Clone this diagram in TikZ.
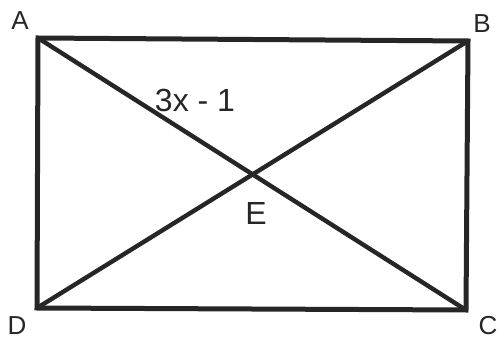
\documentclass[tikz,border=0pt]{standalone}
\usepackage{fontspec}
\setmainfont{Liberation Sans}
\usepackage{tikz}
\usepackage{xcolor}
\usetikzlibrary{positioning,calc}
\definecolor{rcink}{HTML}{262626}
\tikzset{
  rectEdge/.style={draw=rcink, line width=5pt, line join=miter},
  diagLine/.style={draw=rcink, line width=4.4pt},
  vertexLabel/.style={font=\fontsize{26}{28}\selectfont, text=rcink, inner sep=0pt},
  sideLabel/.style={font=\fontsize{32}{34}\selectfont, text=rcink, inner sep=0pt}
}

\begin{document}
\begin{tikzpicture}[x=1pt,y=-1pt]
  \useasboundingbox (0,0) rectangle (504,339);
  \coordinate (A) at (38,38);
  \coordinate (B) at (468,41);
  \coordinate (C) at (466,310);
  \coordinate (D) at (37,308);
  \draw[diagLine] (A) -- (C);
  \draw[diagLine] (B) -- (D);
  \draw[rectEdge] (A) -- (B) -- (C) -- (D) -- cycle;
  \node[vertexLabel] (labA) at (20,21){A};
  \node[vertexLabel] (labB) at (482,24){B};
  \node[vertexLabel] (labC) at (488,326){C};
  \node[vertexLabel] (labD) at (17,326){D};
  \node[sideLabel] (diagExpr) at (195,100){3x - 1};
  \node[sideLabel] (labE) at (256,213){E};
\end{tikzpicture}
\end{document}
